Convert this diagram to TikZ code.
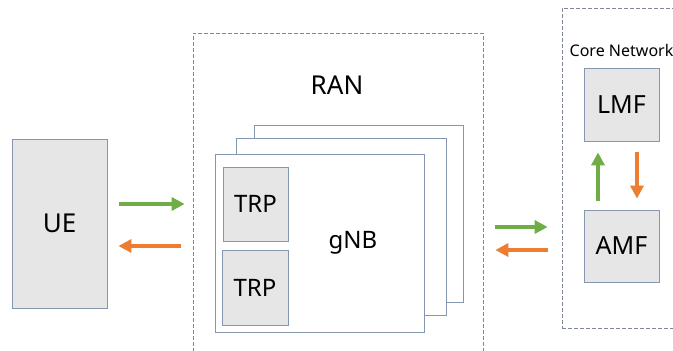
\documentclass[tikz,border=0pt]{standalone}
\usepackage{fontspec}
\setmainfont{Noto Sans}
\usetikzlibrary{arrows.meta}
\usetikzlibrary{calc}
\usetikzlibrary{positioning}
\definecolor{boxgray}{HTML}{E6E6E6}
\definecolor{boxline}{HTML}{8496B0}
\definecolor{dashline}{HTML}{7F8797}
\definecolor{arrgreen}{HTML}{70AD47}
\definecolor{arrorange}{HTML}{ED7D31}

\begin{document}
\begin{tikzpicture}[x=1pt, y=-1pt,
    func/.style={draw=boxline, line width=0.8pt, fill=boxgray, inner sep=0pt},
    stackbox/.style={draw=boxline, line width=0.8pt, fill=white, inner sep=0pt},
    group/.style={draw=dashline, line width=0.7pt, dash pattern=on 4pt off 2pt, inner sep=0pt},
    grn/.style={draw=arrgreen, line width=4pt, -{Triangle[length=13pt,width=13pt]}},
    org/.style={draw=arrorange, line width=4pt, -{Triangle[length=13pt,width=13pt]}}]
        \path[use as bounding box, clip] (0,0) rectangle (673,351);
        \node[group, minimum width=290, minimum height=347] (ran) at (338,206.5) {};
        \node[group, minimum width=200, minimum height=320] (core) at (662,168) {};
        \node[font=\fontsize{26}{31}\selectfont] (ranlabel) at (337,85) {RAN};
        \node[anchor=west, font=\fontsize{16}{19}\selectfont, inner sep=0pt] (corelabel) at (569.5,50) {Core Network};

        \node[func, minimum width=95, minimum height=169, font=\fontsize{26}{31}\selectfont] (ue) at (59.5,223.5) {UE};

        \node[stackbox, minimum width=209, minimum height=177] (gnb3) at (358.5,213.5) {};
        \node[stackbox, minimum width=210, minimum height=177] (gnb2) at (341,226.5) {};
        \node[stackbox, minimum width=209, minimum height=178] (gnb) at (319.5,243) {};
        \node[font=\fontsize{24}{29}\selectfont] (gnblabel) at (353,243) {gNB};
        \node[func, minimum width=65, minimum height=74, font=\fontsize{24}{29}\selectfont] (trp1) at (255.5,204) {TRP};
        \node[func, minimum width=66, minimum height=75, font=\fontsize{24}{29}\selectfont] (trp2) at (255,287.5) {TRP};

        \node[func, minimum width=75, minimum height=73, font=\fontsize{25}{30}\selectfont] (lmf) at (621.5,104.5) {LMF};
        \node[func, minimum width=75, minimum height=72, font=\fontsize{25}{30}\selectfont] (amf) at (621.5,246) {AMF};

        \draw[grn, shorten <=12pt, shorten >=8pt] ([yshift=19.5pt]ue.east) -- ([yshift=19.5pt]ue.east -| ran.west);
        \draw[org, shorten <=12pt, shorten >=11pt] ([yshift=-22.5pt]ue.east -| ran.west) -- ([yshift=-22.5pt]ue.east);
        \draw[grn, shorten <=12pt, shorten >=14pt] ([yshift=19pt]amf.west -| ran.east) -- ([yshift=19pt]amf.west -| core.west);
        \draw[org, shorten <=14pt, shorten >=12pt] ([yshift=-4pt]amf.west -| core.west) -- ([yshift=-4pt]amf.west -| ran.east);
        \draw[grn, shorten <=9pt, shorten >=11pt] ([xshift=-23.5pt]amf.north) -- ([xshift=-23.5pt]lmf.south);
        \draw[org, shorten <=11pt, shorten >=11pt] ([xshift=15.5pt]lmf.south) -- ([xshift=15.5pt]amf.north);
\end{tikzpicture}
\end{document}
